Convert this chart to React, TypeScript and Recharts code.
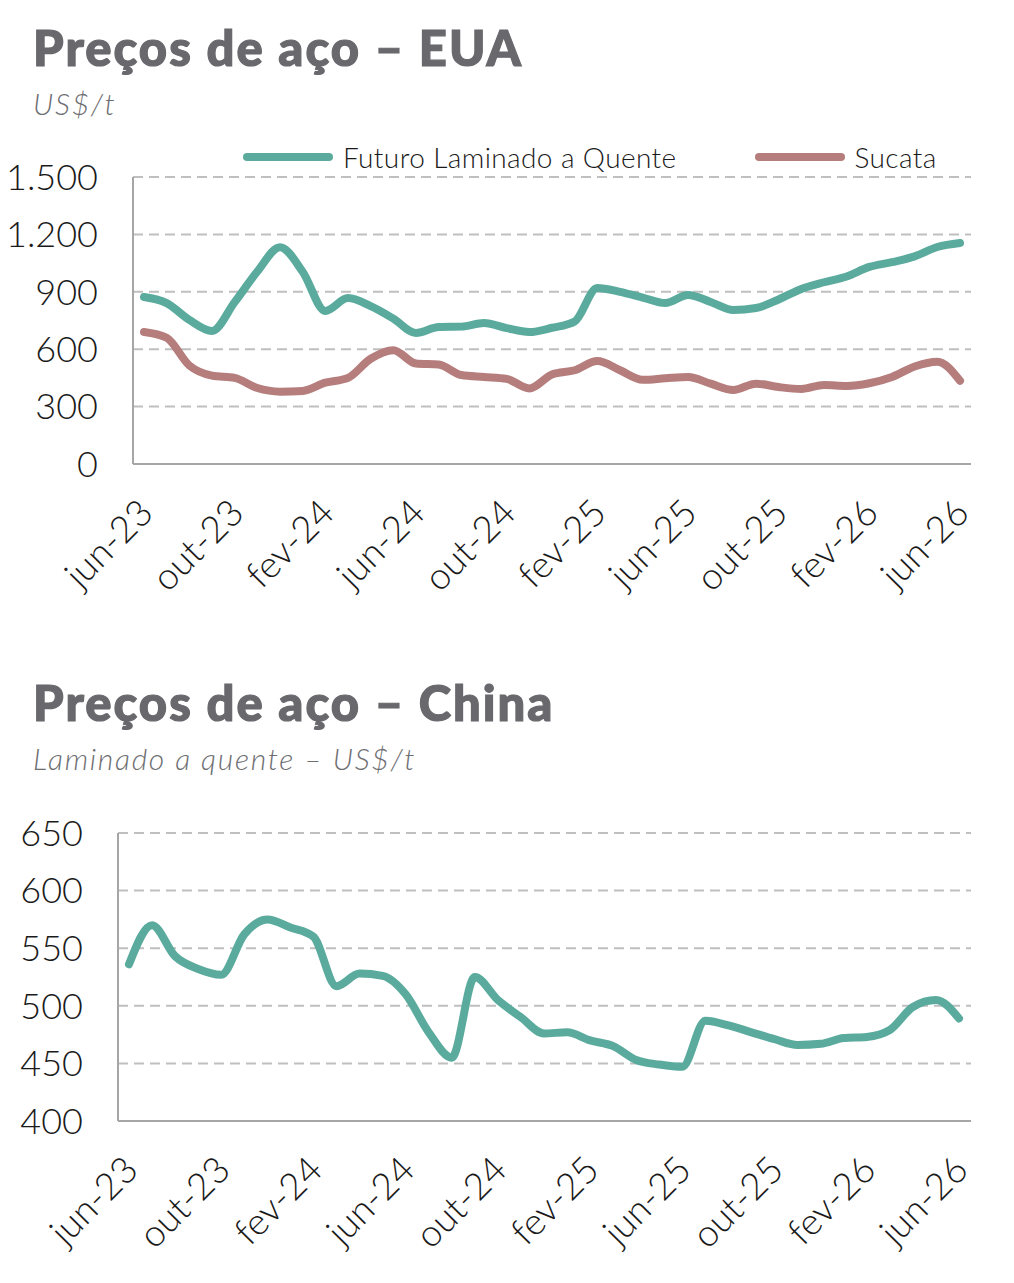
import { LineChart, Line, XAxis, YAxis, CartesianGrid, Legend } from 'recharts';

// monthly axis, jun-23 .. jun-26
const months = [
  'jun-23', 'jul-23', 'ago-23', 'set-23', 'out-23', 'nov-23', 'dez-23',
  'jan-24', 'fev-24', 'mar-24', 'abr-24', 'mai-24', 'jun-24', 'jul-24', 'ago-24', 'set-24', 'out-24', 'nov-24', 'dez-24',
  'jan-25', 'fev-25', 'mar-25', 'abr-25', 'mai-25', 'jun-25', 'jul-25', 'ago-25', 'set-25', 'out-25', 'nov-25', 'dez-25',
  'jan-26', 'fev-26', 'mar-26', 'abr-26', 'mai-26', 'jun-26',
];

// EUA, US$/t
const futuroLaminado = [
  873, 841, 753, 695, 846, 1006, 1133, 1005, 800, 867, 825, 760, 685, 716, 718, 737, 710, 690, 712,
  745, 920, 900, 870, 841, 883, 847, 805, 815, 860, 915, 950, 980, 1030, 1055, 1085, 1134, 1155,
];
const sucata = [
  690, 660, 515, 462, 450, 397, 378, 382, 425, 450, 550, 595, 525, 520, 465, 455, 445, 395, 468,
  490, 538, 490, 440, 448, 455, 420, 387, 420, 402, 392, 413, 408, 422, 455, 510, 535, 435,
];

// China, laminado a quente US$/t
const chinaLaminado = [
  536, 570, 543, 532, 527, 562, 575, 568, 560, 517, 528, 526, 510, 477, 455, 525, 505, 490, 476,
  477, 470, 465, 453, 449, 447, 487, 483, 477, 471, 466, 467, 472, 473, 479, 499, 505, 489,
];

const usTicks = [0, 300, 600, 900, 1200, 1500];
const chinaTicks = [400, 450, 500, 550, 600, 650];

const TEAL = '#5aab9e';
const MAUVE = '#b57d7c';
const GRID = '#bfbfbf';
const AXIS = '#a6a6a6';
const TEXT = '#1a1a1a';
const TITLE = '#68686d';
const FONT = 'Lato, "Open Sans", sans-serif';

const usData = months.map((m, i) => ({ month: m, futuro: futuroLaminado[i], sucata: sucata[i] }));
const chinaData = months.map((m, i) => ({ month: m, china: chinaLaminado[i] }));

const fmtThousands = (v: number) => String(v).replace(/\B(?=(\d{3})+(?!\d))/g, '.');

const yTick = { fill: TEXT, fontSize: 36, fontFamily: FONT, fontWeight: 300 };

function MonthTick({ x, y, payload }: any) {
  return (
    <text
      x={0}
      y={0}
      dy="0.35em"
      textAnchor="end"
      transform={`translate(${x + 2},${y}) rotate(-45)`}
      fill={TEXT}
      fontSize={37}
      fontFamily={FONT}
      fontWeight={300}
    >
      {payload.value}
    </text>
  );
}

function LineLegend({ payload }: any) {
  return (
    <div
      style={{
        display: 'flex',
        alignItems: 'center',
        height: 30,
        paddingLeft: 243,
        fontFamily: FONT,
        fontWeight: 300,
        fontSize: 28,
        letterSpacing: 0.4,
        whiteSpace: 'nowrap',
        color: TEXT,
      }}
    >
      {(payload || []).map((p: any) => (
        <div key={p.value} style={{ display: 'flex', alignItems: 'center', flexShrink: 0, marginRight: 78 }}>
          <span style={{ width: 90, height: 8, borderRadius: 4, background: p.color, marginRight: 10, flexShrink: 0 }} />
          <span>{p.value}</span>
        </div>
      ))}
    </div>
  );
}

function Heading({ top, title, sub }: { top: number; title: string; sub: string }) {
  return (
    <>
      <div
        style={{
          position: 'absolute', left: 33, top, lineHeight: 1, whiteSpace: 'nowrap',
          fontFamily: FONT, fontWeight: 900, fontSize: 49, letterSpacing: 2, color: TITLE,
          WebkitTextStroke: `1.2px ${TITLE}`,
        }}
      >
        {title}
      </div>
      <div
        style={{
          position: 'absolute', left: 33, top: top + 65, lineHeight: 1, whiteSpace: 'nowrap',
          fontFamily: FONT, fontWeight: 300, fontStyle: 'italic', fontSize: 30, letterSpacing: 1.7,
          color: '#6e6e72',
        }}
      >
        {sub}
      </div>
    </>
  );
}

export default function App() {
  return (
    <div style={{ position: 'absolute', left: 0, top: 0, width: 1014, height: 1283, background: '#fff' }}>
      <Heading top={23} title="Preços de aço – EUA" sub="US$/t" />
      <div style={{ position: 'absolute', left: 0, top: 130 }}>
        <LineChart width={1014} height={500} data={usData} margin={{ top: 47, right: 43, bottom: 0, left: 0 }}>
          <CartesianGrid vertical={false} stroke={GRID} strokeDasharray="10 6" strokeWidth={2} />
          <XAxis
            dataKey="month"
            interval={3}
            height={166}
            padding={{ left: 11, right: 11 }}
            axisLine={{ stroke: AXIS, strokeWidth: 2 }}
            tickLine={false}
            tickSize={0}
            tickMargin={42}
            tick={<MonthTick />}
          />
          <YAxis
            width={133}
            domain={[0, 1500]}
            ticks={usTicks}
            tickFormatter={fmtThousands}
            axisLine={{ stroke: AXIS, strokeWidth: 2 }}
            tickLine={false}
            tickSize={0}
            tickMargin={35}
            tick={yTick}
          />
          <Legend
            verticalAlign="middle"
            align="center"
            content={<LineLegend />}
            wrapperStyle={{ top: 12, left: 0, width: 1014 }}
          />
          <Line
            type="monotone"
            dataKey="futuro"
            name="Futuro Laminado a Quente"
            stroke={TEAL}
            strokeWidth={8}
            strokeLinecap="round"
            dot={false}
            isAnimationActive={false}
          />
          <Line
            type="monotone"
            dataKey="sucata"
            name="Sucata"
            stroke={MAUVE}
            strokeWidth={8}
            strokeLinecap="round"
            dot={false}
            isAnimationActive={false}
          />
        </LineChart>
      </div>

      <Heading top={678} title="Preços de aço – China" sub="Laminado a quente – US$/t" />
      <div style={{ position: 'absolute', left: 0, top: 790 }}>
        <LineChart width={1014} height={493} data={chinaData} margin={{ top: 43, right: 43, bottom: 0, left: 0 }}>
          <CartesianGrid vertical={false} stroke={GRID} strokeDasharray="10 6" strokeWidth={2} />
          <XAxis
            dataKey="month"
            interval={3}
            height={162}
            padding={{ left: 11, right: 12 }}
            axisLine={{ stroke: AXIS, strokeWidth: 2 }}
            tickLine={false}
            tickSize={0}
            tickMargin={42}
            tick={<MonthTick />}
          />
          <YAxis
            width={118}
            domain={[400, 650]}
            ticks={chinaTicks}
            axisLine={{ stroke: AXIS, strokeWidth: 2 }}
            tickLine={false}
            tickSize={0}
            tickMargin={35}
            tick={yTick}
          />
          <Line
            type="monotone"
            dataKey="china"
            name="Laminado a quente"
            stroke={TEAL}
            strokeWidth={8}
            strokeLinecap="round"
            dot={false}
            isAnimationActive={false}
          />
        </LineChart>
      </div>
    </div>
  );
}
